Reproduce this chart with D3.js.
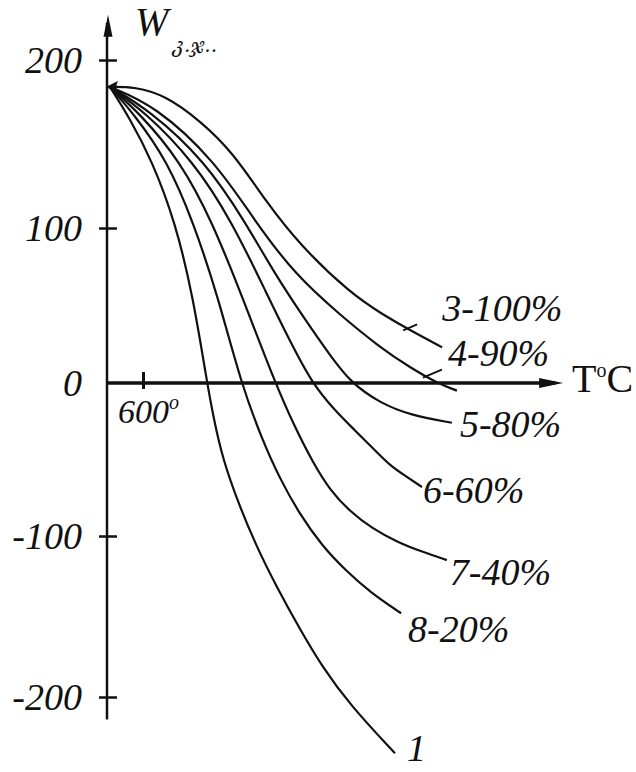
<!DOCTYPE html>
<html>
<head>
<meta charset="utf-8">
<script src="https://cdn.jsdelivr.net/npm/d3@7"></script>
<style>
  body { margin: 0; background: #fff; }
  svg text { font-family: "Liberation Serif", "Times New Roman", serif; font-style: italic; fill: #111; }
</style>
</head>
<body>
<svg id="chart" width="636" height="772"></svg>
<script>
// curve names, top to bottom
var names = ["3-100%", "4-90%", "5-80%", "6-60%", "7-40%", "8-20%", "1"];

// temperature (°C) and W values
var temp3 = [508, 578, 661, 758, 850, 944, 1036, 1175, 1267, 1342, 1431];
var work3 = [184, 184, 179, 164, 145, 115, 89, 58, 44, 34, 23];

var temp4 = [508, 633, 800, 911, 1022, 1147, 1258, 1342, 1417, 1472];
var work4 = [184, 173, 140, 104, 70, 44, 23, 10, 0, -5];

var temp5 = [508, 619, 772, 883, 967, 1050, 1119, 1178, 1258, 1342, 1458];
var work5 = [184, 170, 140, 104, 70, 41, 18, 0, -13, -21, -26];

var temp6 = [508, 606, 739, 847, 947, 1006, 1069, 1133, 1189, 1236, 1286, 1331, 1375];
var work6 = [184, 169, 140, 104, 56, 28, 0, -18, -31, -42, -54, -61, -68];

var temp7 = [508, 592, 703, 792, 875, 967, 1022, 1072, 1119, 1175, 1236, 1308, 1378, 1444];
var work7 = [184, 168, 140, 104, 56, 0, -29, -52, -70, -84, -95, -104, -110, -115];

var temp8 = [508, 578, 667, 739, 808, 872, 931, 981, 1036, 1097, 1161, 1231, 1317];
var work8 = [184, 167, 140, 104, 56, 0, -37, -63, -86, -106, -121, -135, -148];

var temp1 = [508, 564, 625, 689, 739, 778, 797, 822, 864, 914, 972, 1036, 1097, 1175, 1300];
var work1 = [184, 165, 140, 104, 56, 0, -24, -50, -78, -106, -132, -158, -181, -205, -235];

// axis ticks
var yTicks = [-200, -100, 0, 100, 200];
var xTicks = [600];

var temps = [temp3, temp4, temp5, temp6, temp7, temp8, temp1];
var works = [work3, work4, work5, work6, work7, work8, work1];

// label offsets from the end of each curve
var labelOffsets = [[0, -26], [-9, -25], [8, 14], [1, 16], [3, 25], [7, 29], [12, 8]];

var svg = d3.select("#chart");

var x = d3.scaleLinear().domain([500, 1800]).range([107, 575]);
// the hand drawn axis is not quite even, so map each tick
var y = d3.scaleLinear().domain([-200, -100, 0, 100, 200]).range([697, 536, 383, 228, 60]);

var series = names.map(function(n, i) {
  return {
    name: n,
    points: temps[i].map(function(t, j) { return { t: t, w: works[i][j] }; })
  };
});

// y axis
var yAxis = svg.append("g")
  .attr("transform", "translate(" + x(500) + ",0)")
  .call(d3.axisLeft(y).tickValues(yTicks).tickSize(8).tickPadding(15).tickFormat(d3.format("d")));
yAxis.select(".domain").remove();
yAxis.selectAll(".tick line").attr("x1", 10).attr("stroke", "#111").attr("stroke-width", 2.5)
  .filter(function(d) { return d === 0; }).remove();
yAxis.selectAll(".tick text").attr("font-size", 38).attr("fill", "#111")
  .attr("dx", function(d) { return d === 0 ? -2 : -2; })
  .text(function(d) { return d < 0 ? "-" + Math.abs(d) : d; });

svg.append("line")
  .attr("x1", x(500)).attr("x2", x(500))
  .attr("y1", y(-214)).attr("y2", y(222))
  .attr("stroke", "#111").attr("stroke-width", 2.5);
svg.append("path")
  .attr("d", "M" + (x(500) + 1) + "," + y(227) + " l-4.5,22 l9,0 z")
  .attr("fill", "#111");

// x axis
var xAxis = svg.append("g")
  .attr("transform", "translate(0," + y(0) + ")")
  .call(d3.axisBottom(x).tickValues(xTicks).tickSize(6));
xAxis.select(".domain").remove();
xAxis.selectAll(".tick line").attr("y1", -11).attr("stroke", "#111").attr("stroke-width", 3);
xAxis.selectAll(".tick text").attr("font-size", 34).attr("fill", "#111")
  .attr("y", 40).attr("dy", 0).attr("dx", 5)
  .text(function(d) { return d; })
  .append("tspan").attr("font-size", 20).attr("dy", -14).text("o");

svg.append("line")
  .attr("x1", x(500)).attr("x2", x(1745))
  .attr("y1", y(0)).attr("y2", y(0))
  .attr("stroke", "#111").attr("stroke-width", 3.5);
svg.append("path")
  .attr("d", "M" + x(1767) + "," + y(0) + " l-24,-5 l0,10 z")
  .attr("fill", "#111");

// axis titles
var tLabel = svg.append("text")
  .attr("x", x(1767) + 9).attr("y", y(0) + 9)
  .attr("font-size", 40).style("font-style", "normal");
tLabel.append("tspan").text("T");
tLabel.append("tspan").attr("font-size", 20).attr("dy", -15).text("o");
tLabel.append("tspan").attr("dy", 15).text("C");

svg.append("text")
  .attr("x", x(500) + 28).attr("y", y(200) - 25)
  .attr("font-size", 40).text("W");
svg.append("text")
  .attr("x", x(500) + 66).attr("y", y(200) - 8)
  .attr("font-size", 20)
  .style("font-family", "'DejaVu Serif', 'DejaVu Sans', serif")
  .text("კ.ჯ..");

// curves
var line = d3.line()
  .x(function(d) { return x(d.t); })
  .y(function(d) { return y(d.w); })
  .curve(d3.curveBasis);

svg.append("g").selectAll("path")
  .data(series)
  .join("path")
  .attr("d", function(d) { return line(d.points); })
  .attr("fill", "none")
  .attr("stroke", "#111")
  .attr("stroke-width", 2.2);

// little arrow where the curves start
var p0 = series[0].points[0];
svg.append("path")
  .attr("d", "M" + (x(p0.t) - 4) + "," + y(p0.w) + " l12,-6 l-2,6 l2,6 z")
  .attr("fill", "#111");

// curve labels
svg.append("g").selectAll("text")
  .data(series)
  .join("text")
  .attr("x", function(d, i) { return x(d.points[d.points.length - 1].t) + labelOffsets[i][0]; })
  .attr("y", function(d, i) { return y(d.points[d.points.length - 1].w) + labelOffsets[i][1]; })
  .attr("font-size", 38)
  .text(function(d) { return d.name; });

// short leader strokes at the 3 and 4 labels
var end3 = series[0].points[series[0].points.length - 1];
var end4 = series[1].points[series[1].points.length - 1];
svg.append("path")
  .attr("d", "M" + (x(end3.t) - 39) + "," + (y(end3.w) - 17) + " l14,-6")
  .attr("stroke", "#111").attr("stroke-width", 2);
svg.append("path")
  .attr("d", "M" + (x(end4.t) - 34) + "," + (y(end4.w) - 13) + " l19,-8")
  .attr("stroke", "#111").attr("stroke-width", 2);
</script>
</body>
</html>
